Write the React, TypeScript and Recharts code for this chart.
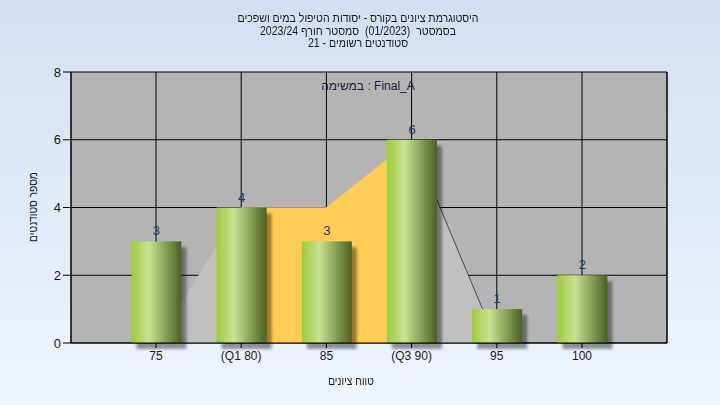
import React from 'react';
import {
  ComposedChart,
  Bar,
  Area,
  XAxis,
  YAxis,
  CartesianGrid,
  LabelList,
} from 'recharts';

// grade buckets and the number of students in each
const gradeLabels = ['75', '(Q1 80)', '85', '(Q3 90)', '95', '100'];
const studentCounts = [3, 4, 3, 6, 1, 2];

// distribution outline drawn behind the bars
const outlineValues = [0, 4, 4, 6, 0, 0];
// inter-quartile part of the outline (Q1..Q3)
const quartileValues = [null, 4, 4, 6, null, null];
// edge stroke on the falling side of the outline
const edgeValues = [null, null, null, 6, 0, null];

const yTicks = [0, 2, 4, 6, 8];

const titleLines = [
  'היסטוגרמת ציונים בקורס - יסודות הטיפול במים ושפכים',
  'בסמסטר  (01/2023)  סמסטר חורף 2023/24',
  'סטודנטים רשומים - 21',
];

const data = gradeLabels.map((label, i) => ({
  label,
  count: studentCounts[i],
  outline: outlineValues[i],
  quartile: quartileValues[i],
  edge: edgeValues[i],
}));

const FONT = '"Liberation Sans", Arial, sans-serif';

const CylinderBar = (props: any) => {
  const { x, y, width, height } = props;
  if (!height || height <= 0) return null;
  return (
    <g>
      <rect
        x={x + 5}
        y={y + 6}
        width={width}
        height={height}
        fill="#000"
        opacity={0.4}
        filter="url(#barShadow)"
      />
      <rect x={x} y={y} width={width} height={height} fill="url(#barGrad)" />
    </g>
  );
};

const App: React.FC = () => {
  return (
    <div
      style={{
        position: 'absolute',
        left: 0,
        top: 0,
        width: 720,
        height: 405,
        background: 'linear-gradient(to bottom, #D3DFF1 0%, #EEF5FD 100%)',
        fontFamily: FONT,
        overflow: 'hidden',
      }}
    >
      {titleLines.map((t, i) => (
        <div
          key={i}
          dir="rtl"
          style={{
            position: 'absolute',
            left: 0,
            width: 716,
            top: 12 + i * 12.5,
            textAlign: 'center',
            fontSize: 12,
            lineHeight: '12px',
            whiteSpace: 'pre',
            color: '#1a1a1a',
            transform: 'scaleX(0.88)',
          }}
        >
          {t}
        </div>
      ))}

      <div
        dir="rtl"
        style={{
          position: 'absolute',
          left: 33 - 60,
          top: 207 - 8,
          width: 120,
          height: 16,
          lineHeight: '16px',
          textAlign: 'center',
          fontSize: 12,
          whiteSpace: 'nowrap',
          color: '#1a1a1a',
          transform: 'rotate(-90deg) scaleX(0.85)',
        }}
      >
        מספר סטודנטים
      </div>

      <div
        dir="rtl"
        style={{
          position: 'absolute',
          left: 351 - 60,
          top: 373,
          width: 120,
          textAlign: 'center',
          fontSize: 12,
          lineHeight: '16px',
          whiteSpace: 'nowrap',
          color: '#1a1a1a',
          transform: 'scaleX(0.85)',
        }}
      >
        טווח ציונים
      </div>

      <div style={{ position: 'absolute', left: 0, top: 0 }}>
        <ComposedChart
          width={720}
          height={405}
          data={data}
          margin={{ top: 72, right: 13, bottom: 32, left: 31 }}
        >
          <defs>
            <linearGradient id="barGrad" x1="0" y1="0" x2="1" y2="0">
              <stop offset="0%" stopColor="#9DCB3A" />
              <stop offset="35%" stopColor="#C9E391" />
              <stop offset="65%" stopColor="#8DA75C" />
              <stop offset="100%" stopColor="#4A6120" />
            </linearGradient>
            <filter id="barShadow" x="-20%" y="-20%" width="140%" height="140%">
              <feGaussianBlur stdDeviation="1.6" />
            </filter>
          </defs>
          <CartesianGrid
            yAxisId="left"
            stroke="#000"
            strokeWidth={1}
            fill="#B4B4B4"
            fillOpacity={1}
          />
          <XAxis
            dataKey="label"
            type="category"
            padding={{ left: 42.4, right: 42.4 }}
            stroke="#000"
            tickSize={5}
            tickMargin={3}
            tick={{ fill: '#1a1a1a', fontSize: 12, fontFamily: FONT }}
            interval={0}
            height={30}
          />
          <YAxis
            yAxisId="left"
            domain={[0, 8]}
            ticks={yTicks}
            stroke="#000"
            tickSize={8}
            tickMargin={2}
            width={40}
            tick={{ fill: '#1a1a1a', fontSize: 13, fontFamily: FONT }}
          />
          <YAxis
            yAxisId="right"
            orientation="right"
            domain={[0, 8]}
            ticks={yTicks}
            stroke="#000"
            tickSize={8}
            tickMargin={2}
            width={40}
            tick={{ fill: '#1a1a1a', fontSize: 13, fontFamily: FONT }}
          />
          <Area
            yAxisId="left"
            dataKey="outline"
            type="linear"
            fill="#C0C0C0"
            fillOpacity={1}
            stroke="none"
            isAnimationActive={false}
          />
          <Area
            yAxisId="left"
            dataKey="quartile"
            type="linear"
            fill="#FFCC55"
            fillOpacity={1}
            stroke="none"
            isAnimationActive={false}
          />
          <Area
            yAxisId="left"
            dataKey="edge"
            type="linear"
            fill="none"
            fillOpacity={0}
            stroke="#4A4A4A"
            strokeWidth={1}
            dot={false}
            activeDot={false}
            isAnimationActive={false}
          />
          <Bar
            yAxisId="left"
            dataKey="count"
            barSize={50}
            shape={<CylinderBar />}
            isAnimationActive={false}
          >
            <LabelList
              dataKey="count"
              position="top"
              offset={6}
              fill="#1E3A66"
              fontSize={13}
              fontFamily={FONT}
            />
          </Bar>
        </ComposedChart>
      </div>

      <div
        style={{
          position: 'absolute',
          left: 368 - 60,
          top: 79,
          width: 120,
          textAlign: 'center',
          fontSize: 12,
          lineHeight: '14px',
          whiteSpace: 'nowrap',
          color: '#2B1640',
        }}
      >
        במשימה : Final_A
      </div>
    </div>
  );
};

export default App;
